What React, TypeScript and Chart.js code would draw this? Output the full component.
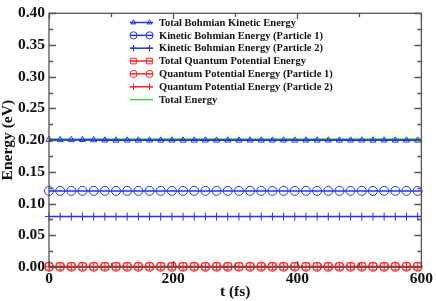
import React, { useEffect, useRef } from "react";
import { Chart, registerables } from "chart.js";

Chart.register(...registerables);

const time = [0, 18, 36, 54, 72, 90, 108, 126, 144, 162, 180, 198, 216, 234, 252, 270, 288, 306, 324, 342, 360, 378, 396, 414, 432, 450, 468, 486, 504, 522, 540, 558, 576, 594, 600];

const totalBohmian = [0.2008, 0.2004, 0.2004, 0.2007, 0.2003, 0.1998, 0.1997, 0.1998, 0.1997, 0.1998, 0.1997, 0.1998, 0.1997, 0.1997, 0.1998, 0.1997, 0.1998, 0.1997, 0.1998, 0.1997, 0.1997, 0.1998, 0.1997, 0.1998, 0.1997, 0.1998, 0.1997, 0.1997, 0.1998, 0.1997, 0.1998, 0.1997, 0.1998, 0.1997, 0.1997];
const kineticP1 = [0.12, 0.12, 0.12, 0.12, 0.12, 0.12, 0.12, 0.12, 0.12, 0.12, 0.12, 0.12, 0.12, 0.12, 0.12, 0.12, 0.12, 0.12, 0.12, 0.12, 0.12, 0.12, 0.12, 0.12, 0.12, 0.12, 0.12, 0.12, 0.12, 0.12, 0.12, 0.12, 0.12, 0.12, 0.12];
const kineticP2 = [0.0795, 0.0795, 0.0795, 0.0795, 0.0795, 0.0795, 0.0795, 0.0795, 0.0795, 0.0795, 0.0795, 0.0795, 0.0795, 0.0795, 0.0795, 0.0795, 0.0795, 0.0795, 0.0795, 0.0795, 0.0795, 0.0795, 0.0795, 0.0795, 0.0795, 0.0795, 0.0795, 0.0795, 0.0795, 0.0795, 0.0795, 0.0795, 0.0795, 0.0795, 0.0795];
const totalQuantum = [0.0008, 0.0008, 0.0008, 0.0008, 0.0008, 0.0008, 0.0008, 0.0008, 0.0008, 0.0008, 0.0008, 0.0008, 0.0008, 0.0008, 0.0008, 0.0008, 0.0008, 0.0008, 0.0008, 0.0008, 0.0008, 0.0008, 0.0008, 0.0008, 0.0008, 0.0008, 0.0008, 0.0008, 0.0008, 0.0008, 0.0008, 0.0008, 0.0008, 0.0008, 0.0008];
const quantumP1 = [0.0004, 0.0004, 0.0004, 0.0004, 0.0004, 0.0004, 0.0004, 0.0004, 0.0004, 0.0004, 0.0004, 0.0004, 0.0004, 0.0004, 0.0004, 0.0004, 0.0004, 0.0004, 0.0004, 0.0004, 0.0004, 0.0004, 0.0004, 0.0004, 0.0004, 0.0004, 0.0004, 0.0004, 0.0004, 0.0004, 0.0004, 0.0004, 0.0004, 0.0004, 0.0004];
const quantumP2 = [0.0004, 0.0004, 0.0004, 0.0004, 0.0004, 0.0004, 0.0004, 0.0004, 0.0004, 0.0004, 0.0004, 0.0004, 0.0004, 0.0004, 0.0004, 0.0004, 0.0004, 0.0004, 0.0004, 0.0004, 0.0004, 0.0004, 0.0004, 0.0004, 0.0004, 0.0004, 0.0004, 0.0004, 0.0004, 0.0004, 0.0004, 0.0004, 0.0004, 0.0004, 0.0004];
const totalEnergy = [0.201, 0.201, 0.201, 0.201, 0.201, 0.201, 0.201, 0.201, 0.201, 0.201, 0.201, 0.201, 0.201, 0.201, 0.201, 0.201, 0.201, 0.201, 0.201, 0.201, 0.201, 0.201, 0.201, 0.201, 0.201, 0.201, 0.201, 0.201, 0.201, 0.201, 0.201, 0.201, 0.201, 0.201, 0.201];

const seriesLabels = [
  "Total Bohmian Kinetic Energy",
  "Kinetic Bohmian Energy (Particle 1)",
  "Kinetic Bohmian Energy (Particle 2)",
  "Total Quantum Potential Energy",
  "Quantum Potential Energy (Particle 1)",
  "Quantum Potential Energy (Particle 2)",
  "Total Energy",
];

const yTicksMajor = [0, 0.05, 0.1, 0.15, 0.2, 0.25, 0.3, 0.35, 0.4];
const yTicksMinor = [0.025, 0.075, 0.125, 0.175, 0.225, 0.275, 0.325, 0.375];
const xTicksMajor = [0, 200, 400, 600];
const xTicksMinor = [100, 300, 500];

const BLUE = "#2233ee";
const RED = "#ff2222";
const GREEN = "#11aa11";
const LEGEND_GREEN = "#33dd33";
const SERIF = "'Liberation Serif', 'Times New Roman', serif";

function marker(ctx: CanvasRenderingContext2D, style: string, r: number, x: number, y: number) {
  ctx.beginPath();
  if (style === "circle") {
    ctx.arc(x, y, r, 0, Math.PI * 2);
  } else if (style === "triangle") {
    ctx.moveTo(x, y - r);
    ctx.lineTo(x + r * 0.866, y + r * 0.5);
    ctx.lineTo(x - r * 0.866, y + r * 0.5);
    ctx.closePath();
  } else if (style === "rect") {
    const s = r * Math.SQRT1_2;
    ctx.rect(x - s, y - s, 2 * s, 2 * s);
  } else if (style === "cross") {
    ctx.moveTo(x, y - r); ctx.lineTo(x, y + r);
    ctx.moveTo(x - r, y); ctx.lineTo(x + r, y);
  }
  ctx.stroke();
}

const frameTicks = {
  id: "frameTicks",
  afterDatasetsDraw(chart: any) {
    const { ctx, chartArea: a, scales } = chart;
    const xs = scales.x, ys = scales.y;
    ctx.save();
    ctx.strokeStyle = "#555";
    ctx.lineWidth = 1.3;
    ctx.strokeRect(a.left, a.top, a.right - a.left, a.bottom - a.top);
    ctx.beginPath();
    const hy = (v: number, len: number) => {
      const y = Math.round(ys.getPixelForValue(v)) + 0.5;
      ctx.moveTo(a.left, y); ctx.lineTo(a.left + len, y);
      ctx.moveTo(a.right, y); ctx.lineTo(a.right - len, y);
    };
    const vx = (v: number, len: number) => {
      const x = Math.round(xs.getPixelForValue(v)) + 0.5;
      ctx.moveTo(x, a.bottom); ctx.lineTo(x, a.bottom - len);
      ctx.moveTo(x, a.top); ctx.lineTo(x, a.top + len);
    };
    yTicksMajor.forEach((v) => hy(v, 7));
    yTicksMinor.forEach((v) => hy(v, 4));
    xTicksMajor.forEach((v) => vx(v, 6));
    xTicksMinor.forEach((v) => vx(v, 4));
    ctx.stroke();
    ctx.restore();
  },
  afterDraw(chart: any) {
    const { ctx } = chart;
    ctx.save();
    const x0 = 130, x1 = 153, tx = 159;
    const y0 = 22.5, dy = 12.85;
    chart.data.datasets.forEach((ds: any, i: number) => {
      const y = y0 + i * dy;
      ctx.strokeStyle = ds.legendColor || ds.borderColor;
      ctx.lineWidth = 1.5;
      ctx.beginPath();
      ctx.moveTo(x0, y); ctx.lineTo(x1, y);
      ctx.stroke();
      if (ds.markerStyle) {
        ctx.lineWidth = 1;
        const r = ds.markerRadius * 0.8;
        marker(ctx, ds.markerStyle, r, x0 + 3.5, y);
        marker(ctx, ds.markerStyle, r, x1 - 3.5, y);
      }
      ctx.fillStyle = "#111";
      ctx.font = `bold 10.5px ${SERIF}`;
      ctx.textBaseline = "middle";
      ctx.textAlign = "left";
      ctx.fillText(ds.label, tx, y + 0.5);
    });
    ctx.restore();
  },
};

function mk(i: number, data: number[], color: string, style: any, radius: number) {
  return {
    label: seriesLabels[i],
    data: time.map((t, k) => ({ x: t, y: data[k] })),
    borderColor: color,
    backgroundColor: "rgba(255,255,255,0)",
    borderWidth: 1.5,
    pointStyle: style,
    markerStyle: style,
    markerRadius: radius,
    pointRadius: (c: any) => (c.dataIndex === time.length - 1 ? 0 : radius),
    pointBorderWidth: 1,
    pointBackgroundColor: "rgba(255,255,255,0)",
    pointBorderColor: color,
    clip: false,
    tension: 0,
  };
}

export default function App() {
  const ref = useRef<HTMLCanvasElement>(null);
  useEffect(() => {
    const datasets: any[] = [
      mk(0, totalBohmian, BLUE, "triangle", 3.5),
      mk(1, kineticP1, BLUE, "circle", 4.5),
      mk(2, kineticP2, BLUE, "cross", 4),
      mk(3, totalQuantum, RED, "rect", 5),
      mk(4, quantumP1, RED, "circle", 4.5),
      mk(5, quantumP2, RED, "cross", 4),
      { ...mk(6, totalEnergy, GREEN, false, 0), pointRadius: 0, borderWidth: 2, markerStyle: null, legendColor: LEGEND_GREEN },
    ];
    const chart = new Chart(ref.current!, {
      type: "line",
      data: { datasets },
      options: {
        animation: false,
        responsive: false,
        maintainAspectRatio: false,
        layout: { padding: { top: 7, right: 13, left: 0, bottom: 0 } },
        plugins: { legend: { display: false }, tooltip: { enabled: false } },
        scales: {
          x: {
            type: "linear",
            min: 0,
            max: 600,
            grid: { display: false, drawTicks: false },
            border: { display: false },
            ticks: { stepSize: 200, padding: 3, color: "#111", font: { family: SERIF, size: 15.5, weight: "bold" }, maxRotation: 0 },
            title: { display: true, text: "t (fs)", color: "#111", padding: 0, font: { family: SERIF, size: 15.5, weight: "bold", lineHeight: 1.1 } },
            afterFit: (s: any) => { s.height = 34; },
          },
          y: {
            min: 0,
            max: 0.4,
            grid: { display: false, drawTicks: false },
            border: { display: false },
            ticks: { stepSize: 0.05, padding: 4, color: "#111", callback: (v: any) => Number(v).toFixed(2), font: { family: SERIF, size: 15.5, weight: "bold" } },
            title: { display: true, text: "Energy (eV)", color: "#111", padding: 0, font: { family: SERIF, size: 15.5, weight: "bold", lineHeight: 1.0 } },
            afterFit: (s: any) => { s.width = 49; },
          },
        },
      },
      plugins: [frameTicks],
    });
    return () => chart.destroy();
  }, []);
  return (
    <div style={{ position: "fixed", left: 0, top: 0, width: 436, height: 301, background: "#fff" }}>
      <canvas ref={ref} width={436} height={301} style={{ width: 436, height: 301 }} />
    </div>
  );
}
